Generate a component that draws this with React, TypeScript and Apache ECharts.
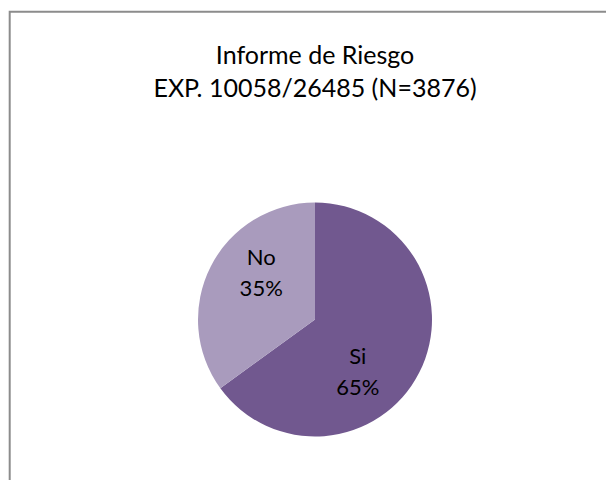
import React, { useEffect, useRef } from "react";
import * as echarts from "echarts";

const titleLines = ["Informe de Riesgo", "EXP. 10058/26485 (N=3876)"];
const categories = ["Si", "No"];
const values = [65, 35];
const colors = ["#71588F", "#A99BBD"];

export default function App() {
  const ref = useRef<HTMLDivElement>(null);
  useEffect(() => {
    if (!ref.current) return;
    const chart = echarts.init(ref.current, null, { renderer: "svg" });
    const labelOffsets = [
      { dx: -12, dy: 24 },
      { dx: 1, dy: -20 },
    ];
    chart.setOption({
      animation: false,
      backgroundColor: "#ffffff",
      title: {
        text: titleLines.join("\n"),
        left: 315,
        top: 37,
        textAlign: "center",
        padding: 0,
        textStyle: {
          fontFamily: "Lato",
          fontSize: 25,
          fontWeight: "normal",
          color: "#000000",
          lineHeight: 33,
        },
      },
      graphic: [
        {
          type: "rect",
          shape: { x: 9.7, y: 11.7, width: 800, height: 700 },
          style: { fill: "none", stroke: "#8c8c8c", lineWidth: 2 },
          silent: true,
        },
      ],
      series: [
        {
          type: "pie",
          center: [315, 319.5],
          radius: 117,
          startAngle: 90,
          clockwise: true,
          data: categories.map((c, i) => ({
            name: c,
            value: values[i],
            itemStyle: { color: colors[i] },
          })),
          label: {
            show: true,
            position: "inside",
            formatter: (p: any) => `${p.name}\n${Math.round(p.percent)}%`,
            fontFamily: "Lato",
            fontSize: 22,
            lineHeight: 31,
            color: "#000000",
          },
          labelLine: { show: false },
          labelLayout: (p: any) => labelOffsets[p.dataIndex] || {},
          emphasis: { disabled: true },
        },
      ],
    });
    return () => chart.dispose();
  }, []);
  return (
    <div
      ref={ref}
      style={{ position: "fixed", left: 0, top: 0, width: 606, height: 480 }}
    />
  );
}
